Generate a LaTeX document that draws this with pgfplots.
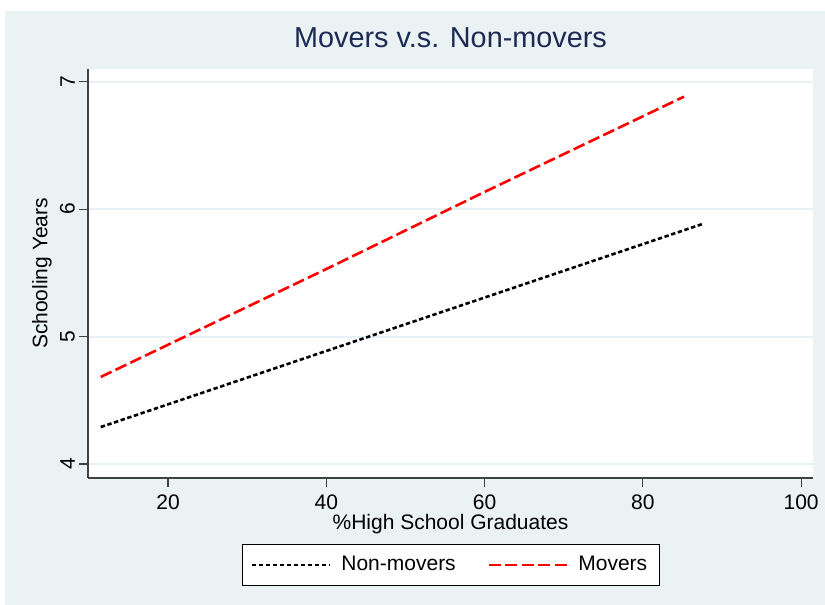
\documentclass[border=0pt]{standalone}
\usepackage{fontspec}
\setmainfont{Liberation Sans}
\usepackage{pgfplots}
\pgfplotsset{compat=1.18}
\definecolor{bgray}{RGB}{234,242,243}
\definecolor{gridc}{RGB}{233,240,243}
\definecolor{titlec}{RGB}{28,43,85}
\definecolor{axc}{RGB}{64,64,64}
\begin{document}
\begin{tikzpicture}
\useasboundingbox (0pt,0pt) rectangle (412.5pt,302.5pt);
\fill[white] (0pt,0pt) rectangle (412.5pt,302.5pt);
\fill[bgray] (2.5pt,0pt) rectangle (412.5pt,297pt);
\fill[white] (44pt,63.5pt) rectangle (406.5pt,268pt);
\begin{axis}[
  at={(44pt,63.5pt)}, anchor=south west,
  scale only axis, width=362.5pt, height=204.5pt,
  xmin=9.89, xmax=101.5, ymin=3.89, ymax=7.10,
  xtick={20,40,60,80,100}, ytick={4,5,6,7},
  axis x line*=bottom, axis y line*=left,
  axis line style={axc, line width=0.6pt, -},
  tick style={axc, line width=0.6pt},
  tick align=outside, major tick length=4.5pt,
  ymajorgrids, grid style={gridc, line width=1pt},
  /pgf/number format/assume math mode=true,
  ticklabel style={font=\fontsize{10.5}{12}\selectfont},
  yticklabel style={rotate=90, anchor=south, yshift=-1.5pt},
  xticklabel style={inner sep=1pt, yshift=-2.5pt},
  title={Movers v.s. Non-movers},
  title style={at={(axis description cs:0.5,1.0244)}, anchor=base, font=\fontsize{14.4}{16}\selectfont, text=titlec, inner sep=0pt},
  xlabel={\%High School Graduates},
  xlabel style={at={(axis description cs:0.5,-0.1262)}, anchor=base, font=\fontsize{10.5}{12}\selectfont, inner sep=0pt},
  ylabel={Schooling Years},
  ylabel style={at={(axis description cs:-0.0634,0.5)}, anchor=center, font=\fontsize{10.5}{12}\selectfont, inner sep=0pt},
  legend columns=2,
  legend image code/.code={\draw[#1] (0pt,0pt) -- (39pt,0pt);},
  legend style={at={(0.5007,-0.2127)}, anchor=center, draw=black, line width=0.4pt, fill=white,
    font=\fontsize{10.5}{12}\selectfont, inner xsep=4pt, inner ysep=4pt,
    /tikz/every even column/.append style={column sep=14pt},
    /tikz/every odd column/.append style={column sep=3pt}},
]
\addplot[black, line width=1.3pt, dash pattern=on 2.2pt off 1.3pt] coordinates {(11.5,4.29) (40,4.887) (60,5.306) (87.6,5.885)};
\addlegendentry{Non-movers}
\addplot[red, line width=1.3pt, dash pattern=on 6pt off 2.2pt] coordinates {(11.5,4.683) (40,5.53) (60,6.135) (85.2,6.883)};
\addlegendentry{Movers}
\end{axis}
\end{tikzpicture}
\end{document}
